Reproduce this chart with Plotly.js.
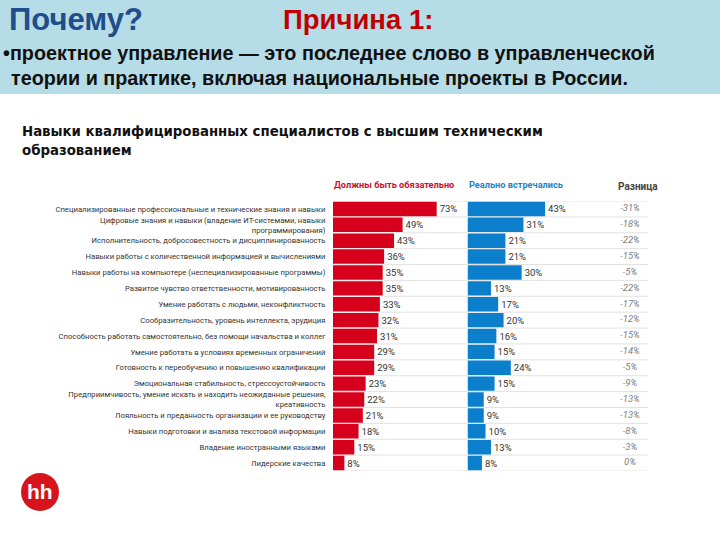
<!DOCTYPE html>
<html><head><meta charset="utf-8">
<script src="https://cdn.plot.ly/plotly-3.0.1.min.js"></script>
<style>html,body{margin:0;padding:0;background:#fff}#chart{width:720px;height:540px}</style>
</head><body><div id="chart"></div>
<script>
const skills = [
  "Специализированные профессиональные и технические знания и навыки",
  "Цифровые знания и навыки (владение ИТ-системами, навыки<br>программирования)",
  "Исполнительность, добросовестность и дисциплинированность",
  "Навыки работы с количественной информацией и вычислениями",
  "Навыки работы на компьютере (неспециализированные программы)",
  "Развитое чувство ответственности, мотивированность",
  "Умение работать с людьми, неконфликтность",
  "Сообразительность, уровень интеллекта, эрудиция",
  "Способность работать самостоятельно, без помощи начальства и коллег",
  "Умение работать в условиях временных ограничений",
  "Готовность к переобучению и повышению квалификации",
  "Эмоциональная стабильность, стрессоустойчивость",
  "Предприимчивость, умение искать и находить неожиданные решения,<br>креативность",
  "Лояльность и преданность организации и ее руководству",
  "Навыки подготовки и анализа текстовой информации",
  "Владение иностранными языками",
  "Лидерские качества"
];
const required = [73, 49, 43, 36, 35, 35, 33, 32, 31, 29, 29, 23, 22, 21, 18, 15, 8];
const actual   = [43, 31, 21, 21, 30, 13, 17, 20, 16, 15, 24, 15, 9, 9, 10, 13, 8];
const difference = [-31, -18, -22, -15, -5, -22, -17, -12, -15, -14, -5, -9, -13, -13, -8, -3, 0];

const seriesNames = ["Должны быть обязательно", "Реально встречались", "Разница"];

const SMALL = "Roboto, Liberation Sans, sans-serif";
const HEAD = "Liberation Sans, Arial, sans-serif";
const W = 720, H = 540;
const px = v => v / W;
const py = v => (H - v) / H;

const red = "#d6001c", blue = "#0b7fcc";

const traces = [
  {
    type: "bar", orientation: "h", name: seriesNames[0],
    y: skills, x: required, xaxis: "x", yaxis: "y",
    marker: {color: red},
    text: required.map(v => v + "%"), textposition: "outside",
    textfont: {family: SMALL, size: 9.5, color: "#333"},
    cliponaxis: false, hoverinfo: "skip"
  },
  {
    type: "bar", orientation: "h", name: seriesNames[1],
    y: skills, x: actual, xaxis: "x2", yaxis: "y",
    marker: {color: blue},
    text: actual.map(v => v + "%"), textposition: "outside",
    textfont: {family: SMALL, size: 9.5, color: "#333"},
    cliponaxis: false, hoverinfo: "skip"
  },
  {
    type: "scatter", mode: "text", name: seriesNames[2],
    y: skills, x: skills.map(() => 0), xaxis: "x3", yaxis: "y",
    text: difference.map(v => v + "%"),
    textfont: {family: SMALL, size: 9.5, color: "#808080", style: "italic"},
    cliponaxis: false, hoverinfo: "skip"
  }
];

const shapes = [
  {type: "rect", xref: "paper", yref: "paper", x0: 0, x1: 1, y0: py(94), y1: 1,
   fillcolor: "#b6dce7", line: {width: 0}, layer: "below"},
  {type: "circle", xref: "paper", yref: "paper", x0: px(21), x1: px(59), y0: py(511), y1: py(473),
   fillcolor: "#d7141c", line: {width: 0}}
];
for (let i = 0; i <= skills.length; i++) {
  shapes.push({type: "line", xref: "paper", yref: "y", x0: px(333), x1: px(648),
    y0: i - 0.5, y1: i - 0.5, line: {color: "#e2e2e2", width: 1}, layer: "below"});
}

const annotations = [
  {text: "<b>Почему?</b>", x: px(7), y: py(19), xanchor: "left", yanchor: "middle",
   font: {family: HEAD, size: 31, color: "#1f4e8a"}},
  {text: "<b>Причина 1:</b>", x: px(281), y: py(19), xanchor: "left", yanchor: "middle",
   font: {family: HEAD, size: 27.5, color: "#c00000"}},
  {text: "<b>•проектное управление — это последнее слово в управленческой</b>", x: px(1), y: py(53), xanchor: "left", yanchor: "middle",
   font: {family: HEAD, size: 19.8, color: "#111"}},
  {text: "<b>теории и практике, включая национальные проекты в России.</b>", x: px(9), y: py(78), xanchor: "left", yanchor: "middle",
   font: {family: HEAD, size: 19.8, color: "#111"}},
  {text: "<b>Навыки квалифицированных специалистов с высшим техническим<br>образованием</b>", x: px(20), y: py(140), xanchor: "left", yanchor: "middle", align: "left",
   font: {family: "DejaVu Sans Condensed, Liberation Sans, sans-serif", size: 14.8, color: "#111"}},
  {text: "<b>" + seriesNames[0] + "</b>", x: px(332), y: py(184), xanchor: "left", yanchor: "middle",
   font: {family: SMALL, size: 9.2, color: "#c8102e"}},
  {text: "<b>" + seriesNames[1] + "</b>", x: px(467), y: py(184), xanchor: "left", yanchor: "middle",
   font: {family: SMALL, size: 9.2, color: "#1a86c8"}},
  {text: "<b>" + seriesNames[2] + "</b>", x: px(638), y: py(186), xanchor: "center", yanchor: "middle",
   font: {family: SMALL, size: 10, color: "#444"}},
  {text: "<b>hh</b>", x: px(40), y: py(491), xanchor: "center", yanchor: "middle",
   font: {family: "Liberation Sans, Arial, sans-serif", size: 21, color: "#fff"}}
].map(a => Object.assign({xref: "paper", yref: "paper", showarrow: false}, a));

const hidden = {showgrid: false, zeroline: false, showticklabels: false, showline: false, ticks: "", fixedrange: true};

const layout = {
  width: W, height: H,
  margin: {l: 0, r: 0, t: 0, b: 0},
  paper_bgcolor: "#fff", plot_bgcolor: "rgba(0,0,0,0)",
  showlegend: false,
  bargap: 0.09,
  xaxis: Object.assign({domain: [px(333), px(467.5)], range: [0, 94.7], anchor: "y"}, hidden),
  xaxis2: Object.assign({domain: [px(467.5), px(648)], range: [0, 100], anchor: "y"}, hidden),
  xaxis3: Object.assign({domain: [px(610), px(650)], range: [-1, 1], anchor: "y"}, hidden),
  yaxis: {
    type: "category", autorange: false, range: [skills.length - 0.5, -0.5],
    domain: [py(471), py(201)], anchor: "x",
    showgrid: false, zeroline: false, showline: false,
    ticks: "outside", ticklen: 5, tickcolor: "rgba(0,0,0,0)",
    tickfont: {family: SMALL, size: 7.7, color: "#333"}, fixedrange: true
  },
  shapes: shapes,
  annotations: annotations
};

Plotly.newPlot("chart", traces, layout, {displayModeBar: false, staticPlot: true});
</script>
</body></html>
